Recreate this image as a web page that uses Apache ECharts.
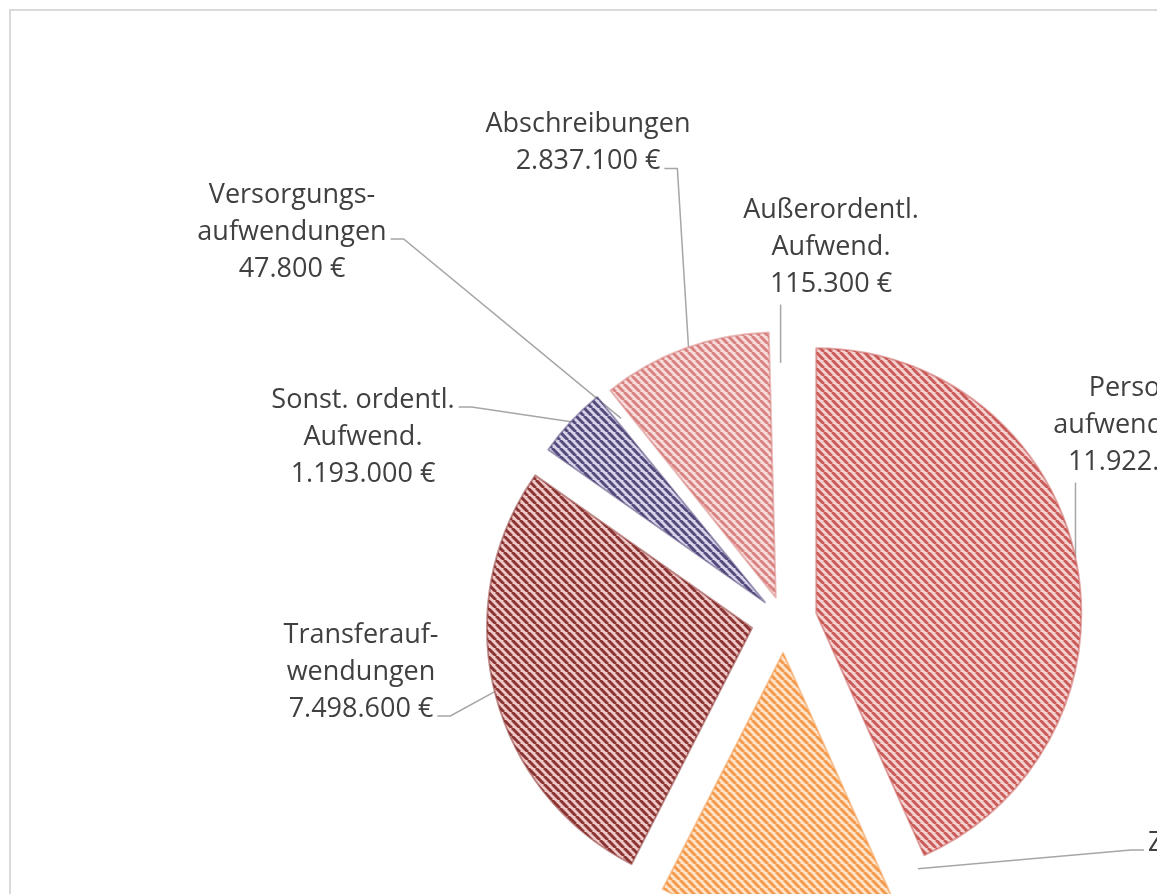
<!DOCTYPE html>
<html>
<head>
<meta charset="utf-8">
<script src="https://cdn.jsdelivr.net/npm/echarts@6/dist/echarts.min.js"></script>
<style>
  html, body { margin: 0; padding: 0; background: #fff; }
  #chart { width: 1157px; height: 894px; }
</style>
</head>
<body>
<div id="chart"></div>
<script>
// Aufwendungen, Reihenfolge im Uhrzeigersinn ab 12 Uhr
const categories = [
  'Personal-\naufwendungen',
  'Zinsen und ähnliche\nAufwendungen',
  'Transferauf-\nwendungen',
  'Sonst. ordentl.\nAufwend.',
  'Versorgungs-\naufwendungen',
  'Abschreibungen',
  'Außerordentl.\nAufwend.'
];
const values = [11922400, 3900000, 7498600, 1193000, 47800, 2837100, 115300];

// [hintergrund, streifen]; null = keine sichtbare Füllung
const sliceColors = [
  ['#f4d2d1', '#c95b58'],
  ['#fde3c9', '#f39a4c'],
  ['#efc9c8', '#8a3533'],
  ['#d9d3ea', '#554a7c'],
  null,
  ['#f6dcdb', '#d88381'],
  null
];
// Explosion je Segment (px)
const explode = [33, 33, 33, 26, 26, 24, 24];

// Beschriftung: Mitte des Textblocks, Seite der Führungslinie
const labelPlace = [
  { x: 1148, y: 425, side: 'bottom' },
  { left: 1148, y: 880, side: 'left', line: 0, angle: 148, rf: 0.96 },
  { x: 361, y: 672, side: 'right', line: 2 },
  { x: 363, y: 437, side: 'right', line: 0 },
  { x: 292, y: 232, side: 'right', line: 1, rf: 0.88 },
  { x: 588, y: 143, side: 'right', line: 1, rf: 0.95 },
  { x: 831, y: 247, side: 'bottom', rf: 0.88 }
];

const pieCenter = [784, 620];
const pieRadius = 265;
const fontSize = 27;
const lineH = 37;
const textColor = '#404040';
const leaderColor = '#a6a6a6';

const fmt = v => String(v).replace(/\B(?=(\d{3})+(?!\d))/g, '.') + ' €';
const labelText = i => categories[i] + '\n' + fmt(values[i]);

const measureCtx = document.createElement('canvas').getContext('2d');
measureCtx.font = fontSize + 'px "Open Sans"';
const textWidth = s => measureCtx.measureText(s).width;

const total = values.reduce((a, b) => a + b, 0);
let acc = 0;
const sliceGeo = values.map((v, i) => {
  const mid = (acc + v / 2) / total * 360;
  acc += v;
  const a = mid * Math.PI / 180;
  return {
    mid,
    cx: pieCenter[0] + explode[i] * Math.sin(a),
    cy: pieCenter[1] - explode[i] * Math.cos(a)
  };
});

function stripes(bg, fg) {
  const s = 8;
  const c = document.createElement('canvas');
  c.width = s; c.height = s;
  const g = c.getContext('2d');
  g.fillStyle = bg;
  g.fillRect(0, 0, s, s);
  g.strokeStyle = fg;
  g.lineWidth = 3;
  for (let k = -1; k <= 1; k++) {
    g.beginPath();
    g.moveTo(k * s, 0);
    g.lineTo(k * s + s, s);
    g.stroke();
  }
  return c;
}

function leaderLayout(params) {
  const i = params.dataIndex;
  const p = labelPlace[i];
  const lines = labelText(i).split('\n');
  const n = lines.length;
  const cx = p.left != null ? p.left + textWidth(lines[0]) / 2 : p.x;
  const top = p.y - n * lineH / 2;
  const geo = sliceGeo[i];
  const ang = (p.angle != null ? p.angle : geo.mid) * Math.PI / 180;
  const rr = pieRadius * (p.rf || 1);
  const end = [geo.cx + rr * Math.sin(ang), geo.cy - rr * Math.cos(ang)];
  let pts;
  if (p.side === 'bottom') {
    const b = [end[0], top + n * lineH + 2];
    pts = [end, [end[0], (end[1] + b[1]) / 2], b];
  } else {
    const ly = top + (p.line + 0.5) * lineH + 7;
    const dir = p.side === 'right' ? 1 : -1;
    const a = [cx + dir * (textWidth(lines[p.line]) / 2 + 4), ly];
    pts = [end, [a[0] + dir * 13, ly], a];
  }
  return { x: cx, y: p.y, align: 'center', verticalAlign: 'middle', labelLinePoints: pts };
}

const series = values.map((_, i) => {
  const col = sliceColors[i];
  const style = col
    ? { color: { image: stripes(col[0], col[1]), repeat: 'repeat' }, borderColor: col[1] + '88', borderWidth: 2 }
    : { color: 'rgba(255,255,255,0)', borderWidth: 0 };
  return {
    type: 'pie',
    radius: pieRadius,
    center: [sliceGeo[i].cx, sliceGeo[i].cy],
    startAngle: 90,
    clockwise: true,
    avoidLabelOverlap: false,
    silent: true,
    animation: false,
    emphasis: { disabled: true },
    labelLayout: leaderLayout,
    data: values.map((v, j) => ({
      value: v,
      name: categories[j],
      itemStyle: j === i ? style : { color: 'rgba(0,0,0,0)', borderWidth: 0 },
      label: {
        show: j === i,
        position: 'outside',
        width: 420,
        formatter: p => labelText(p.dataIndex),
        color: textColor,
        fontFamily: 'Open Sans',
        fontSize: fontSize,
        lineHeight: lineH,
        align: 'center'
      },
      labelLine: {
        show: j === i,
        lineStyle: { color: leaderColor, width: 1.5 }
      }
    }))
  };
});

const chart = echarts.init(document.getElementById('chart'));
chart.setOption({
  backgroundColor: '#ffffff',
  animation: false,
  graphic: [{
    type: 'rect',
    silent: true,
    shape: { x: 10, y: 10, width: 2000, height: 2000 },
    style: { fill: 'none', stroke: '#d9d9d9', lineWidth: 2 }
  }],
  series: series
});
</script>
</body>
</html>
